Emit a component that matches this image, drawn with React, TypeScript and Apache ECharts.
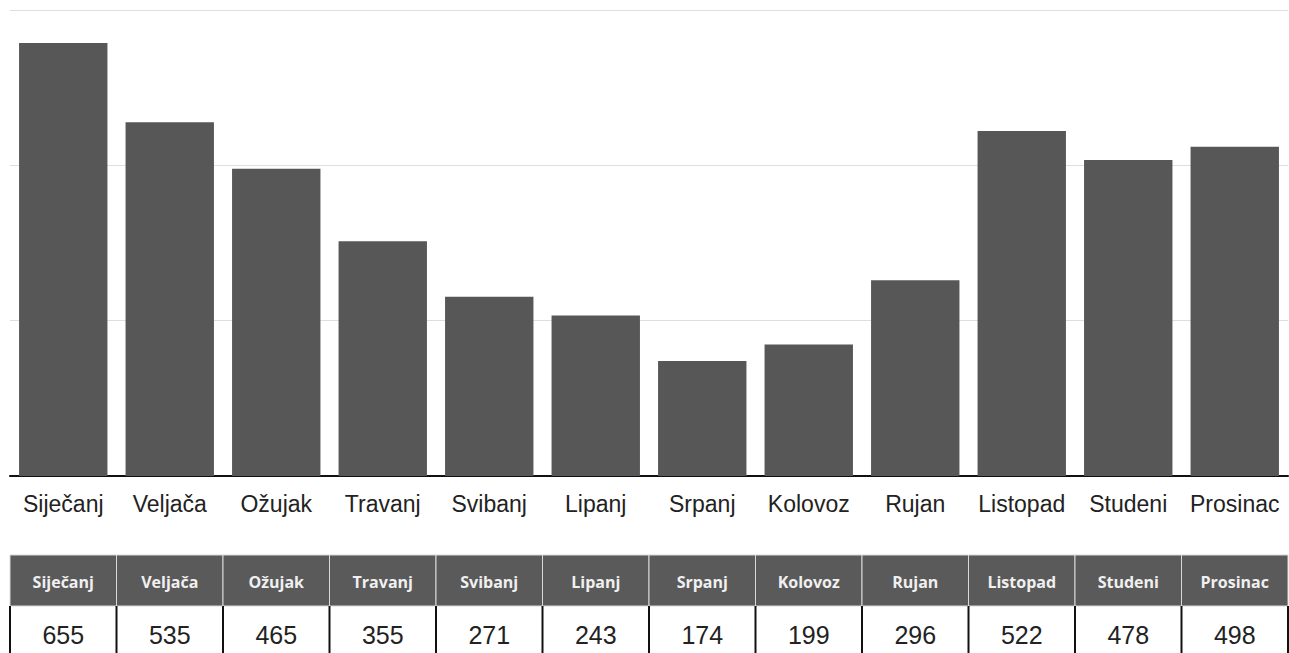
import React, { useEffect, useRef } from "react";
import * as echarts from "echarts";

const categories = [
  "Siječanj", "Veljača", "Ožujak", "Travanj", "Svibanj", "Lipanj",
  "Srpanj", "Kolovoz", "Rujan", "Listopad", "Studeni", "Prosinac",
];
const values = [655, 535, 465, 355, 271, 243, 174, 199, 296, 522, 478, 498];

const W = 1289;
const H = 653;
const GRID_LEFT = 10;
const GRID_RIGHT = 1;
const GRID_TOP = 10;
const GRID_BOTTOM = 177;

export default function App() {
  const ref = useRef<HTMLDivElement>(null);
  useEffect(() => {
    if (!ref.current) return;
    const chart = echarts.init(ref.current, undefined, { renderer: "svg" });
    const plotW = W - GRID_LEFT - GRID_RIGHT;
    const colW = plotW / categories.length;
    const headTop = 555;
    const headH = 51;
    const rowTop = headTop + headH;
    const rowH = H - rowTop + 4;
    const graphics: any[] = [];
    categories.forEach((c, i) => {
      const x = GRID_LEFT + i * colW;
      graphics.push({
        type: "rect",
        shape: { x, y: headTop, width: colW, height: headH },
        style: { fill: "#5a5a5a", stroke: "#d8d8d8", lineWidth: 1 },
        silent: true,
      });
      graphics.push({
        type: "text",
        x: x + colW / 2,
        y: headTop + headH / 2 + 1,
        style: {
          text: c,
          fill: "#f0f0f0",
          font: "bold 16px 'Open Sans', sans-serif",
          align: "center",
          verticalAlign: "middle",
        },
        silent: true,
      });
      graphics.push({
        type: "text",
        x: x + colW / 2,
        y: rowTop + 29,
        style: {
          text: String(values[i]),
          fill: "#222222",
          font: "25px 'Liberation Sans', Arial, sans-serif",
          align: "center",
          verticalAlign: "middle",
        },
        silent: true,
      });
    });
    for (let i = 0; i <= categories.length; i++) {
      const x = GRID_LEFT + i * colW;
      graphics.push({
        type: "line",
        shape: { x1: x, y1: rowTop, x2: x, y2: rowTop + rowH },
        style: { stroke: "#111111", lineWidth: 2 },
        silent: true,
      });
    }

    chart.setOption({
      animation: false,
      backgroundColor: "#ffffff",
      grid: {
        left: GRID_LEFT,
        right: GRID_RIGHT,
        top: GRID_TOP,
        bottom: GRID_BOTTOM,
        containLabel: false,
      },
      xAxis: {
        type: "category",
        data: categories,
        axisLine: { show: true, lineStyle: { color: "#111111", width: 2 } },
        axisTick: { show: false },
        axisLabel: {
          color: "#222222",
          fontSize: 23,
          fontFamily: "'Liberation Sans', Arial, sans-serif",
          margin: 16,
          interval: 0,
        },
      },
      yAxis: {
        type: "value",
        min: 0,
        max: 705,
        interval: 235,
        axisLabel: { show: false },
        axisLine: { show: false },
        axisTick: { show: false },
        splitLine: { lineStyle: { color: "#dedede", width: 1 } },
      },
      series: [
        {
          type: "bar",
          data: values,
          barCategoryGap: "17%",
          itemStyle: { color: "#575757" },
        },
      ],
      graphic: graphics,
    });
    return () => chart.dispose();
  }, []);
  return (
    <div
      ref={ref}
      style={{ position: "fixed", left: 0, top: 0, width: W, height: H }}
    />
  );
}
